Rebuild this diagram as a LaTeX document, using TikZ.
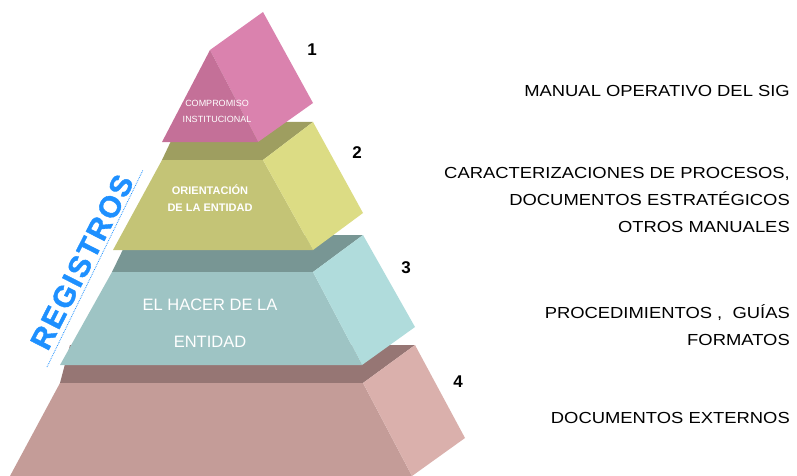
\documentclass[tikz,border=0pt]{standalone}
\usepackage{fontspec}
\setmainfont{Liberation Sans}
\newfontfamily\docfont[FakeStretch=1.15]{Liberation Sans}
\newfontfamily\regfont[BoldFeatures={FakeBold=1.3},LetterSpace=6]{Liberation Sans}

\begin{document}
\begin{tikzpicture}[x=1pt,y=-1pt,
	tier text/.style={text=white,align=center,inner sep=0pt},
	level num/.style={font=\fontsize{17}{17}\selectfont\bfseries},
	doc text/.style={anchor=east,align=right,inner sep=0pt,font=\docfont\fontsize{16}{27}\selectfont}]
	
	\definecolor{pinkfront}{RGB}{196,112,152}
	\definecolor{pinkside}{RGB}{218,130,174}
	\definecolor{olivetop}{RGB}{158,158,96}
	\definecolor{olivefront}{RGB}{196,196,118}
	\definecolor{oliveside}{RGB}{220,220,132}
	\definecolor{tealtop}{RGB}{120,150,148}
	\definecolor{tealfront}{RGB}{158,196,196}
	\definecolor{tealside}{RGB}{176,220,220}
	\definecolor{rosetop}{RGB}{150,118,116}
	\definecolor{rosefront}{RGB}{196,156,152}
	\definecolor{roseside}{RGB}{218,176,172}
	\definecolor{regblue}{RGB}{30,144,255}
	
	\useasboundingbox (0,0) rectangle (797,476);
	
	% nivel 4
	\fill[rosetop] (60,383) -- (363,383) -- (415,345) -- (70,345) -- cycle;
	\fill[rosefront] (60,383) -- (363,383) -- (412,476) -- (10,476) -- cycle;
	\fill[roseside] (363,383) -- (415,345) -- (465,438) -- (412,476) -- cycle;
	% nivel 3
	\fill[tealtop] (112,272) -- (313,272) -- (363,235) -- (130,235) -- cycle;
	\fill[tealfront] (112,272) -- (313,272) -- (362,365) -- (60,365) -- cycle;
	\fill[tealside] (313,272) -- (363,235) -- (415,327) -- (362,365) -- cycle;
	% nivel 2
	\fill[olivetop] (162,160) -- (263,160) -- (313,122) -- (180,122) -- cycle;
	\fill[olivefront] (162,160) -- (263,160) -- (313,250) -- (113,250) -- cycle;
	\fill[oliveside] (263,160) -- (313,122) -- (363,213) -- (313,250) -- cycle;
	% nivel 1
	\fill[pinkside] (210,50) -- (263,12) -- (313,103) -- (258,142) -- cycle;
	\fill[pinkfront] (210,50) -- (258,142) -- (162,142) -- cycle;
	
	\node[tier text,font=\fontsize{9}{16}\selectfont] (comp) at (217,111) {COMPROMISO\\INSTITUCIONAL};
	\node[tier text,font=\fontsize{11}{17}\selectfont\bfseries] (orient) at (210,198) {ORIENTACIÓN\\DE LA ENTIDAD};
	\node[tier text,font=\fontsize{16.5}{37}\selectfont] (hacer) at (210,323) {EL HACER DE LA\\ENTIDAD};
	
	\node[level num] (n1) at (312,50) {1};
	\node[level num] (n2) at (357,153) {2};
	\node[level num] (n3) at (406,268) {3};
	\node[level num] (n4) at (458,382) {4};
	
	\node[doc text] (doc1) at (790,91) {MANUAL OPERATIVO DEL SIG};
	\node[doc text] (doc2) at (790,200) {CARACTERIZACIONES DE PROCESOS,\\DOCUMENTOS ESTRATÉGICOS\\OTROS MANUALES};
	\node[doc text] (doc3) at (790,325) {PROCEDIMIENTOS ,\ \ GUÍAS\\FORMATOS};
	\node[doc text] (doc4) at (790,418) {DOCUMENTOS EXTERNOS};
	
	% registros
	\coordinate (regA) at (47,367);
	\coordinate (regB) at (143,170);
	\draw[regblue,densely dotted,line width=0.8pt] (regA) -- (regB);
	\node[font=\regfont\fontsize{30}{30}\selectfont\bfseries,text=regblue,rotate=63] (reg) at (82,262) {REGISTROS};
\end{tikzpicture}
\end{document}
